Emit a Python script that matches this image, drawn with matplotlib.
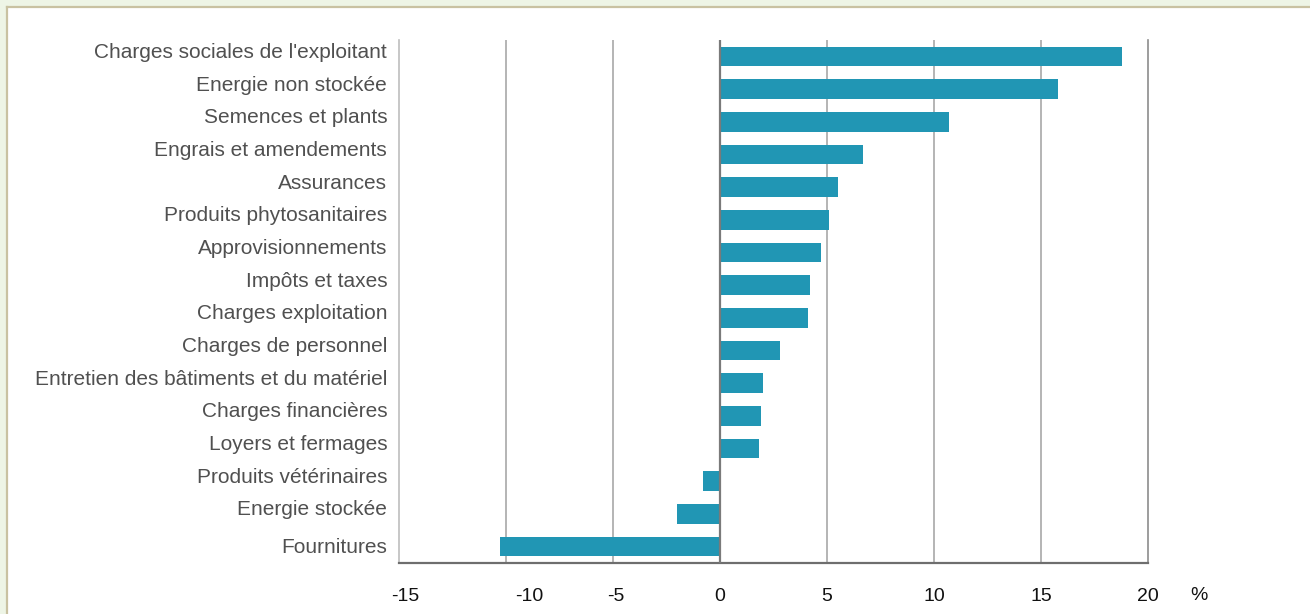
import matplotlib
matplotlib.use("Agg")
import matplotlib.pyplot as plt
from matplotlib.patches import Rectangle
from matplotlib.transforms import ScaledTranslation

categories = [
    "Charges sociales de l'exploitant",
    "Energie non stockée",
    "Semences et plants",
    "Engrais et amendements",
    "Assurances",
    "Produits phytosanitaires",
    "Approvisionnements",
    "Impôts et taxes",
    "Charges exploitation",
    "Charges de personnel",
    "Entretien des bâtiments et du matériel",
    "Charges financières",
    "Loyers et fermages",
    "Produits vétérinaires",
    "Energie stockée",
    "Fournitures",
]
values = [18.8, 15.8, 10.7, 6.7, 5.5, 5.1, 4.7, 4.2, 4.1, 2.8, 2.0, 1.9, 1.8, -0.8, -2.0, -10.3]
xticks = [-15, -10, -5, 0, 5, 10, 15, 20]

BAR = "#2196b4"
FONT = "Liberation Sans"

fig = plt.figure(figsize=(13.1, 6.14), dpi=100, facecolor="#eef5e6")
# white panel with a thin tan frame on the top and left
fig.patches.append(Rectangle((7 / 1310, 0), 1.0, 1 - 7 / 614, transform=fig.transFigure,
                             facecolor="white", edgecolor="none", zorder=-10))
fig.lines.append(plt.Line2D([7 / 1310, 1.0], [1 - 7 / 614, 1 - 7 / 614], transform=fig.transFigure,
                            color="#c9c2a2", lw=1.6, zorder=-9))
fig.lines.append(plt.Line2D([7 / 1310, 7 / 1310], [0, 1 - 7 / 614], transform=fig.transFigure,
                            color="#c9c2a2", lw=1.6, zorder=-9))

left, right = 399 / 1310, 1148 / 1310
top, bottom = 1 - 40 / 614, 1 - 563 / 614
ax = fig.add_axes([left, bottom, right - left, top - bottom])
ax.set_facecolor("none")

n = len(categories)
ypos = list(range(n))[::-1]
ax.barh(ypos, values, height=0.6, color=BAR, zorder=3)

ax.set_xlim(-15, 20)
ax.set_ylim(-0.5, n - 0.5)

for x in xticks:
    if x in (-15, 0, 20):
        continue
    ax.axvline(x, color="#a8a8a8", lw=1.2, zorder=1)
ax.axvline(0, color="#7a7a7a", lw=1.6, zorder=4)

ax.spines["top"].set_visible(False)
ax.spines["left"].set_color("#bdbdbd")
ax.spines["left"].set_linewidth(1.2)
ax.spines["right"].set_color("#8c8c8c")
ax.spines["right"].set_linewidth(1.2)
ax.spines["bottom"].set_color("#6e6e6e")
ax.spines["bottom"].set_linewidth(1.6)

ax.set_yticks(ypos)
ax.set_yticklabels(categories, fontsize=15, color="#505050", family=FONT)
ax.tick_params(axis="y", length=0, pad=8.5)
for i, lab in enumerate(ax.get_yticklabels()):
    dy = 1 if i == n - 1 else 6
    lab.set_transform(lab.get_transform() + ScaledTranslation(0, dy / 100, fig.dpi_scale_trans))

ax.set_xticks(xticks)
ax.set_xticklabels([str(x) for x in xticks], fontsize=14, color="#111111", family=FONT)
ax.tick_params(axis="x", length=0, pad=18)
# the negative labels sit a little to the right of their gridlines
nudge_px = {-15: 6, -10: 23, -5: 3}
for x, lab in zip(xticks, ax.get_xticklabels()):
    dx = nudge_px.get(x, 0)
    if dx:
        lab.set_transform(lab.get_transform() + ScaledTranslation(dx / 100, 0, fig.dpi_scale_trans))

fig.text(1199 / 1310, 1 - 595 / 614, "%", fontsize=14, color="#111111", family=FONT,
         ha="center", va="center")

fig.savefig("out.png", dpi=100, facecolor=fig.get_facecolor())
